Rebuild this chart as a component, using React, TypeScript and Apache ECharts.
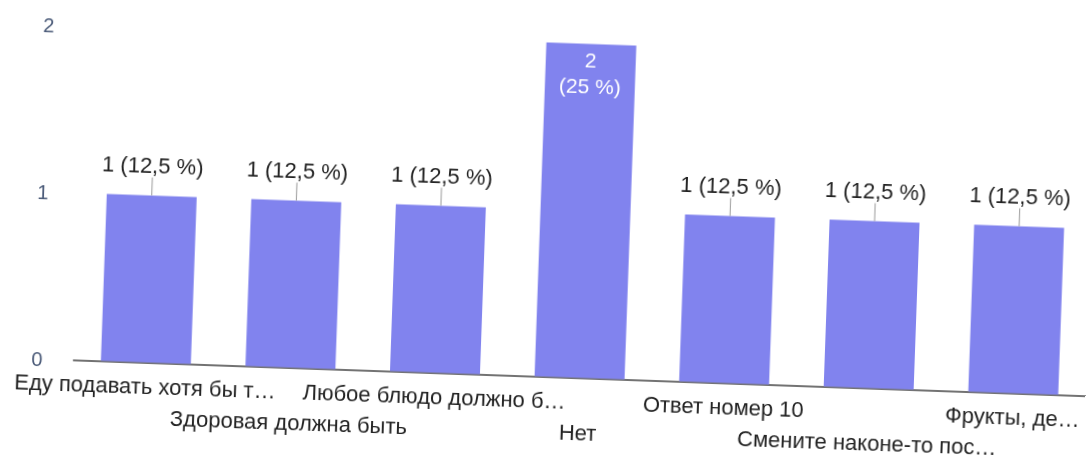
import React, { useEffect, useRef } from "react";
import * as echarts from "echarts";

const categories = [
  "Еду подавать хотя бы т…",
  "Здоровая должна быть",
  "Любое блюдо должно б…",
  "Нет",
  "Ответ номер 10",
  "Смените наконе-то пос…",
  "Фрукты, де…",
];
const counts = [1, 1, 1, 2, 1, 1, 1];
const percents = ["12,5 %", "12,5 %", "12,5 %", "25 %", "12,5 %", "12,5 %", "12,5 %"];
const yTicks = [0, 1, 2];

const FONT = "'Liberation Sans', Arial, sans-serif";
const BAR = "#8183ee";

export default function App() {
  const ref = useRef<HTMLDivElement>(null);
  useEffect(() => {
    if (!ref.current) return;
    const chart = echarts.init(ref.current, undefined, { renderer: "svg" });
    const yMax = yTicks[yTicks.length - 1];
    chart.setOption({
      animation: false,
      textStyle: { fontFamily: FONT },
      grid: { left: 78.4, right: -9.4, top: 42.5, bottom: 86.5, containLabel: false },
      xAxis: {
        type: "category",
        data: categories,
        axisLine: { show: true, lineStyle: { color: "#444", width: 1.5 } },
        axisTick: { show: false },
        axisLabel: {
          interval: 0,
          color: "#222",
          fontSize: 22,
          fontFamily: FONT,
          lineHeight: 31,
          margin: 8.5,
          formatter: (v: string, i: number) => (i % 2 === 1 ? "\n" + v : v),
        },
      },
      yAxis: {
        type: "value",
        min: 0,
        max: yMax,
        interval: 1,
        splitLine: { show: false },
        axisLine: { show: false },
        axisTick: { show: false },
        axisLabel: { color: "#4a5a78", fontSize: 20, fontFamily: FONT, margin: 31 },
      },
      series: [
        {
          type: "bar",
          barWidth: 90,
          itemStyle: { color: BAR },
          data: counts.map((v, i) => {
            const inside = v >= yMax;
            return {
              value: v,
              label: inside
                ? {
                    show: true,
                    position: "insideTop",
                    distance: 3,
                    color: "#fff",
                    fontSize: 21,
                    lineHeight: 26,
                    fontFamily: FONT,
                    formatter: `${v}\n(${percents[i]})`,
                  }
                : {
                    show: true,
                    position: "top",
                    distance: 19,
                    color: "#222",
                    fontSize: 22,
                    fontFamily: FONT,
                    formatter: `${v} (${percents[i]})`,
                  },
            };
          }),
        },
        {
          type: "custom",
          data: counts.map((v, i) => [i, v]),
          renderItem: (params: any, api: any) => {
            const v = api.value(1);
            if (v >= yMax) return null;
            const p = api.coord([api.value(0), v]);
            return {
              type: "line",
              shape: { x1: p[0], y1: p[1], x2: p[0], y2: p[1] - 18 },
              style: { stroke: "#9a9a9a", lineWidth: 1 },
            };
          },
          z: 3,
        },
      ],
    });
    return () => chart.dispose();
  }, []);
  return (
    <div
      ref={ref}
      style={{
        position: "fixed",
        left: 0,
        top: 0,
        width: 1091,
        height: 463,
        background: "#fff",
        transform: "rotate(2.03deg)",
        transformOrigin: "50% 50%",
      }}
    />
  );
}
